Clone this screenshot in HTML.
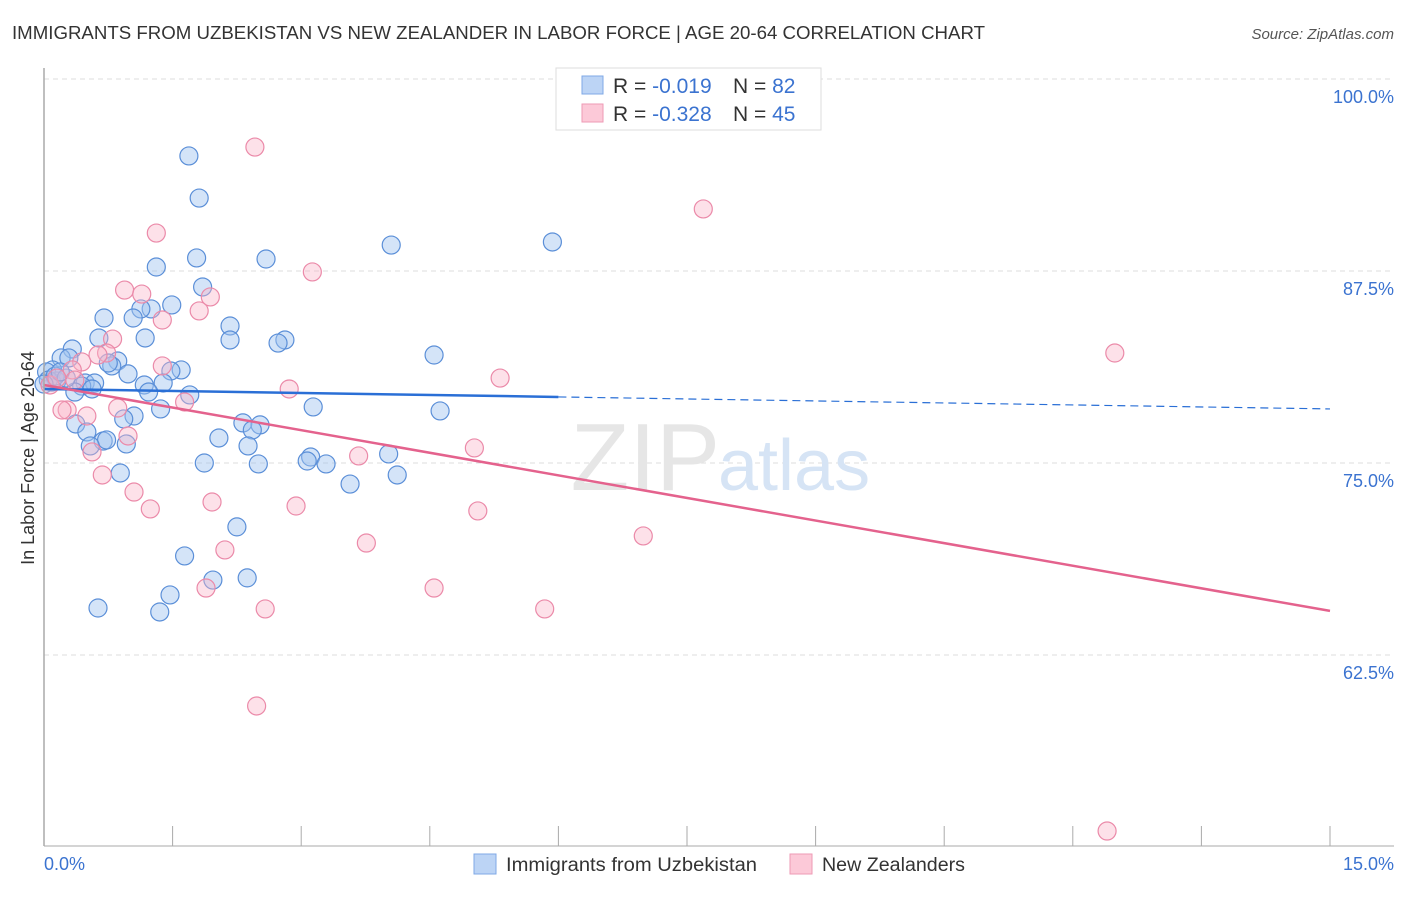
<!DOCTYPE html>
<html><head><meta charset="utf-8"><style>
body{margin:0;background:#fff;font-family:"Liberation Sans",sans-serif;}
svg text{font-family:"Liberation Sans",sans-serif;}
</style></head><body>
<svg id="chart" width="1406" height="892" xmlns="http://www.w3.org/2000/svg">
<text x="12" y="39" font-size="18" fill="#333" textLength="973" lengthAdjust="spacingAndGlyphs">IMMIGRANTS FROM UZBEKISTAN VS NEW ZEALANDER IN LABOR FORCE | AGE 20-64 CORRELATION CHART</text>
<text x="1394" y="39" font-size="15" fill="#555" font-style="italic" text-anchor="end">Source: ZipAtlas.com</text>
<g id="grid"></g>
<text x="720" y="490" font-size="96" fill="#e6e6e6" text-anchor="end" font-family="Liberation Serif">ZIP</text>
<text x="718" y="490" font-size="72" fill="#d6e4f5">atlas</text>
<g id="pts"></g>
<g id="lines"></g>
<line x1="44" y1="68" x2="44" y2="846" stroke="#aaa" stroke-width="1.5"/>
<line x1="44" y1="846" x2="1394" y2="846" stroke="#aaa" stroke-width="1"/>
<g id="ticks"></g>
<text x="34" y="458" font-size="18" fill="#333" text-anchor="middle" transform="rotate(-90 34 458)">In Labor Force | Age 20-64</text>
<text x="44" y="870" font-size="18" fill="#3b73d0">0.0%</text>
<text x="1394" y="870" font-size="18" fill="#3b73d0" text-anchor="end">15.0%</text>
<g>
<rect x="556" y="68" width="265" height="62" fill="#fff" stroke="#ddd"/>
<rect x="582" y="76" width="21" height="18" fill="#bcd4f5" stroke="#7fa8e6"/>
<rect x="582" y="104" width="21" height="18" fill="#fcc9d8" stroke="#ee9ab5"/>
<text x="613" y="93" font-size="21" fill="#333">R = <tspan fill="#3b73d0">-0.019</tspan><tspan x="733">N = </tspan><tspan fill="#3b73d0">82</tspan></text>
<text x="613" y="121" font-size="21" fill="#333">R = <tspan fill="#3b73d0">-0.328</tspan><tspan x="733">N = </tspan><tspan fill="#3b73d0">45</tspan></text>
</g>
<g>
<rect x="474" y="854" width="22" height="20" fill="#bcd4f5" stroke="#7fa8e6"/>
<text x="506" y="871" font-size="19" fill="#333" textLength="251" lengthAdjust="spacingAndGlyphs">Immigrants from Uzbekistan</text>
<rect x="790" y="854" width="22" height="20" fill="#fcc9d8" stroke="#ee9ab5"/>
<text x="822" y="871" font-size="19" fill="#333" textLength="143" lengthAdjust="spacingAndGlyphs">New Zealanders</text>
</g>
</svg>
<script>
const yTicks=[100,87.5,75,62.5];
const yTickLabels=["100.0%","87.5%","75.0%","62.5%"];
const xTicks=[0,1.5,3,4.5,6,7.5,9,10.5,12,13.5,15];
const blueX=[1.69,1.81,1.31,1.78,2.59,4.05,5.93,1.85,1.49,1.25,1.13,1.04,0.70,0.64,1.18,2.17,2.17,2.81,2.73,4.55,0.33,0.20,0.29,0.86,0.79,1.60,1.48,0.98,0.10,0.03,0.09,0.15,0.48,0.59,0.44,1.17,1.39,0.56,0.36,1.22,1.70,3.14,1.36,4.62,1.05,0.93,2.32,2.52,2.43,0.37,0.50,0.69,0.73,0.54,0.96,2.04,2.38,4.02,3.11,3.07,3.29,1.87,2.50,0.89,4.12,3.57,2.25,1.64,2.37,1.97,1.47,0.63,1.35,0.05,0.13,0.26,0.00,0.19,0.75];
const blueY=[94.99,92.25,87.76,88.35,88.28,89.19,89.39,86.46,85.29,85.03,85.03,84.44,84.44,83.14,83.14,83.92,83.01,83.01,82.81,82.03,82.42,81.84,81.84,81.64,81.32,81.06,80.99,80.80,81.06,80.93,80.27,80.34,80.21,80.21,80.01,80.08,80.21,79.82,79.62,79.62,79.43,78.65,78.52,78.39,78.06,77.87,77.61,77.48,77.15,77.54,77.02,76.43,76.50,76.11,76.24,76.63,76.11,75.59,75.39,75.13,74.94,75.00,74.94,74.35,74.22,73.63,70.84,68.95,67.52,67.38,66.41,65.56,65.30,80.40,80.66,80.53,80.14,80.93,81.51];
const pinkX=[2.46,7.69,1.31,3.13,0.94,1.14,1.94,1.81,1.38,0.80,0.73,0.63,12.49,1.38,0.44,0.33,5.32,2.86,1.64,0.86,0.27,0.21,0.50,0.98,0.56,5.02,3.67,0.68,1.05,1.96,1.24,2.94,5.06,6.99,2.11,3.76,4.55,1.89,2.58,5.84,2.48,12.40,0.07,0.15,0.36];
const pinkY=[95.57,91.54,89.97,87.44,86.26,86.00,85.81,84.90,84.31,83.07,82.16,82.03,82.16,81.32,81.58,81.06,80.53,79.82,78.97,78.58,78.45,78.45,78.06,76.76,75.72,75.98,75.46,74.22,73.11,72.46,72.01,72.20,71.88,70.25,69.34,69.79,66.86,66.86,65.50,65.50,59.18,51.04,80.08,80.53,80.40];
const blueTrend=[79.82,78.52];
const pinkTrend=[80.08,65.37];
const NS="http://www.w3.org/2000/svg";
const sx=v=>44+v/15*1286;
const sy=v=>79+(100-v)/12.5*192;
function mk(t,a,p){const e=document.createElementNS(NS,t);for(const k in a)e.setAttribute(k,a[k]);p.appendChild(e);return e;}
const grid=document.getElementById('grid');
yTicks.forEach((v,i)=>{
 const l=mk('line',{x1:44,x2:1394,y1:sy(v),y2:sy(v),stroke:'#ddd','stroke-dasharray':'5,4'},grid);
 
 
 const t=mk('text',{x:1394,y:sy(v)+24,'font-size':18,fill:'#3b73d0','text-anchor':'end'},grid);
 t.textContent=yTickLabels[i];
 
 
});
const ticks=document.getElementById('ticks');
xTicks.forEach(v=>{
 const l=mk('line',{x1:sx(v),x2:sx(v),y1:826,y2:846,stroke:'#aaa'},ticks);
 
 
});
const pts=document.getElementById('pts');
blueX.forEach((x,i)=>{
 const c=mk('circle',{cx:sx(x),cy:sy(blueY[i]),r:9,fill:'rgba(160,195,240,0.45)',stroke:'#5b8fd8','stroke-width':1.2},pts);
 
 
});
pinkX.forEach((x,i)=>{
 const c=mk('circle',{cx:sx(x),cy:sy(pinkY[i]),r:9,fill:'rgba(250,180,200,0.4)',stroke:'#eb8aa9','stroke-width':1.2},pts);
 
 
});
const lines=document.getElementById('lines');
const bm=blueTrend[0]+(blueTrend[1]-blueTrend[0])*6/15;
let l1=mk('line',{x1:sx(0),y1:sy(blueTrend[0]),x2:sx(6),y2:sy(bm),stroke:'#2a6fd6','stroke-width':2.5},lines);


let l2=mk('line',{x1:sx(6),y1:sy(bm),x2:sx(15),y2:sy(blueTrend[1]),stroke:'#2a6fd6','stroke-width':1.2,'stroke-dasharray':'8,5'},lines);


let l3=mk('line',{x1:sx(0),y1:sy(pinkTrend[0]),x2:sx(15),y2:sy(pinkTrend[1]),stroke:'#e4628d','stroke-width':2.5},lines);


</script>
</body></html>
